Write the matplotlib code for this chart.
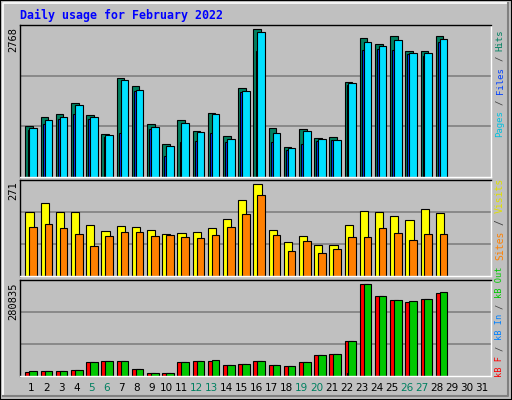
import matplotlib
matplotlib.use("Agg")
import matplotlib.pyplot as plt
from matplotlib.patches import Rectangle
from matplotlib.lines import Line2D

days = list(range(1, 32))
hits = [946,1115,1171,1378,1152,795,1847,1697,983,607,1058,852,1190,758,1659,2768,908,551,889,720,739,1772,2599,2486,2636,2354,2354,2636]
pages = [908,1058,1115,1340,1115,776,1810,1622,927,570,1002,833,1171,701,1603,2711,814,532,852,701,683,1753,2524,2448,2561,2317,2317,2580]
files = [870,983,1077,1171,1077,739,814,1603,889,382,645,664,814,645,1584,2354,645,495,607,664,683,1716,2373,2392,2373,2298,2261,2524]
visits = [191,215,191,191,150,133,147,144,136,124,127,130,141,168,224,271,136,100,118,91,91,150,194,191,177,165,197,186]
sites = [144,153,141,124,88,118,130,130,118,121,115,112,121,144,183,239,121,74,103,68,80,115,115,141,127,106,124,124]
kb_f = [10250,13325,13325,16400,41000,44075,44075,19475,7175,7175,41000,44075,44075,31775,34850,44075,31775,28700,41000,62525,65600,105575,280835,243950,231650,225500,234725,253175]
kb_out = [13325,13325,13325,16400,41000,44075,44075,19475,7175,7175,41000,44075,47150,31775,34850,44075,31775,28700,41000,62525,65600,105575,280835,243950,231650,228575,234725,256250]
kb_in = [0]*21 + [7000] + [0]*6
weekend = [5, 6, 12, 13, 19, 20, 26, 27]

BG = "#C0C0C0"
W, H = 512, 400
fig = plt.figure(figsize=(5.12, 4.0), dpi=100, facecolor=BG)
MONO = "DejaVu Sans Mono"

def px(x, y):
    return x / W, 1 - y / H

# outer bevel
fig.add_artist(Rectangle((0, 0), 1, 1, transform=fig.transFigure, fill=False, edgecolor="black", lw=1.5))
fig.add_artist(Line2D([3/W, 3/W, 1-4/W], [4/H, 1-3/H, 1-3/H], transform=fig.transFigure, color="white", lw=1.2))
fig.add_artist(Line2D([3/W, 1-4/W, 1-4/W], [4/H, 4/H, 1-3/H], transform=fig.transFigure, color="#808080", lw=1.5))

def make_ax(top, bottom, vmax, factor):
    ax = fig.add_axes([20/W, 1 - bottom/H, 471/W, (bottom-top)/H])
    ax.set_facecolor(BG)
    ax.set_xlim(0, 31)
    ymax = vmax * factor
    ax.set_ylim(0, ymax)
    for g in (ymax/3, 2*ymax/3):
        ax.axhline(g, color="#808080", lw=1.2, zorder=0)
    ax.set_xticks([]); ax.set_yticks([])
    ax.spines["left"].set_color("black"); ax.spines["top"].set_color("black")
    ax.spines["right"].set_color("white"); ax.spines["bottom"].set_color("white")
    for s in ax.spines.values():
        s.set_linewidth(1.0)
    return ax

n = len(hits)
xs = [d - 1 for d in days[:n]]
ek = dict(edgecolor="black", linewidth=0.8, align="edge")

ax1 = make_ax(25.3, 176.7, max(hits), 1.028)
ax1.bar([x + 0.36 for x in xs], hits, width=0.5, color="#008060", **ek)
ax1.bar([x + 0.5 for x in xs], files, width=0.14, color="#0040FF", **ek)
ax1.bar([x + 0.62 for x in xs], pages, width=0.5, color="#00E0FF", **ek)

ax2 = make_ax(179.7, 276.3, max(visits), 1.051)
ax2.bar([x + 0.36 for x in xs], visits, width=0.54, color="#FFFF00", **ek)
ax2.bar([x + 0.62 for x in xs], sites, width=0.5, color="#FF8000", **ek)

ax3 = make_ax(280.3, 375.7, max(kb_out), 1.044)
ax3.bar([x + 0.36 for x in xs], kb_f, width=0.54, color="#FF0000", **ek)
ax3.bar([x + 0.5 for x in xs], kb_in, width=0.14, color="#0080FF", **ek)
ax3.bar([x + 0.62 for x in xs], kb_out, width=0.5, color="#00C800", **ek)

# title
x, y = px(20, 15)
fig.text(x, y, "Daily usage for February 2022", color="#0000FF", fontsize=8.4,
         fontweight="bold", family=MONO, va="center", ha="left")

# left max labels
for val, ytop in (("2768", 27), ("271", 181), ("280835", 282)):
    x, y = px(13, ytop)
    fig.text(x, y, val, rotation=90, fontsize=7.5, family=MONO, va="top", ha="center", color="black")

# right rotated multicolour labels (each piece centred on its computed span)
def vlabel(parts, ybottom, ytop):
    total = sum(len(t) for t, _ in parts)
    step = (ybottom - ytop) / total
    fs = step / 0.602 * 72 / 100
    start = 0
    for txt, col in parts:
        center = ybottom - step * (start + len(txt) / 2)
        start += len(txt)
        if not txt.strip():
            continue
        x, y = px(500, center)
        fig.text(x, y, txt.strip(), rotation=90, fontsize=fs, family=MONO,
                 va="center", ha="center", color=col)

vlabel([("Pages", "#00C0E0"), (" / ", "#404040"), ("Files", "#0040FF"), (" / ", "#404040"), ("Hits", "#008060")], 137, 29)
vlabel([("Sites", "#FF8000"), (" / ", "#404040"), ("Visits", "#E0E000")], 260, 178)
vlabel([("kB F", "#FF0000"), (" / ", "#404040"), ("kB In", "#0080FF"), (" / ", "#404040"), ("kB Out", "#00C800")], 377, 267)

# day labels
for d in days:
    x, y = px(20 + (d - 1) * 15 + 11.5, 388)
    col = "#008060" if d in weekend else "black"
    fig.text(x, y, str(d), fontsize=7.5, family="DejaVu Sans", va="center", ha="center", color=col)

fig.savefig("out.png", dpi=100, facecolor=BG)
